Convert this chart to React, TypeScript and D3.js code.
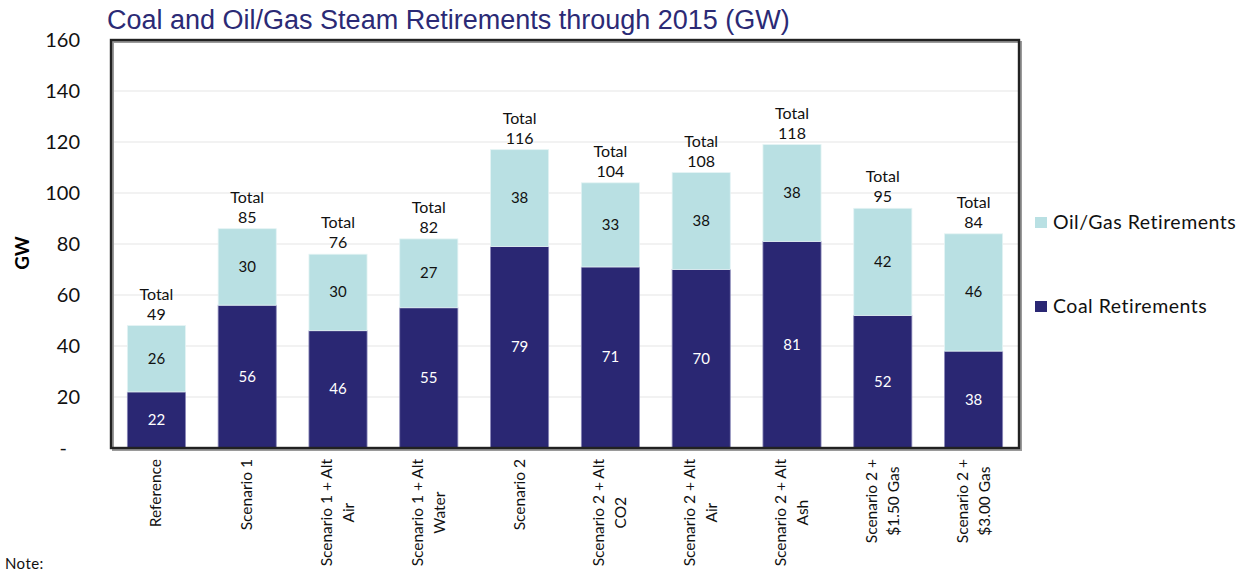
import React, { useEffect, useRef } from 'react';
import * as d3 from 'd3';

// categories (line breaks as they appear under the bars)
const categories: string[][] = [
  ['Reference'],
  ['Scenario 1'],
  ['Scenario 1 + Alt', 'Air'],
  ['Scenario 1 + Alt', 'Water'],
  ['Scenario 2'],
  ['Scenario 2 + Alt', 'CO2'],
  ['Scenario 2 + Alt', 'Air'],
  ['Scenario 2 + Alt', 'Ash'],
  ['Scenario 2 +', '$1.50 Gas'],
  ['Scenario 2 +', '$3.00 Gas'],
];
const coal = [22, 56, 46, 55, 79, 71, 70, 81, 52, 38];
const oilGas = [26, 30, 30, 27, 38, 33, 38, 38, 42, 46];
const totals = [49, 85, 76, 82, 116, 104, 108, 118, 95, 84];
const yTicks = [0, 20, 40, 60, 80, 100, 120, 140, 160];

const COAL = '#2a2773';
const OIL = '#b9e0e3';
const FONT = 'Lato, "Open Sans", sans-serif';

const App: React.FC = () => {
  const ref = useRef<SVGSVGElement>(null);

  useEffect(() => {
    if (!ref.current) return;
    const svg = d3.select(ref.current);
    svg.selectAll('*').remove();

    const plot = { left: 111, right: 1019, top: 40, bottom: 448 };

    const x = d3.scaleBand<number>()
      .domain(d3.range(categories.length))
      .range([plot.left, plot.right])
      .paddingInner(0.36)
      .paddingOuter(0.18);
    const y = d3.scaleLinear().domain([0, 160]).range([plot.bottom, plot.top]);

    // title
    svg.append('text')
      .attr('x', 107).attr('y', 29)
      .attr('fill', '#2b2a75')
      .style('font-family', '"Liberation Sans", Arial, sans-serif')
      .style('font-size', '27px')
      .text('Coal and Oil/Gas Steam Retirements through 2015 (GW)');

    // gridlines
    svg.append('g').selectAll('line')
      .data(yTicks.filter(t => t > 0 && t < 160))
      .enter().append('line')
      .attr('x1', plot.left).attr('x2', plot.right)
      .attr('y1', d => y(d)).attr('y2', d => y(d))
      .attr('stroke', '#e6e6e6').attr('stroke-width', 1.2);

    // y tick labels
    svg.append('g').selectAll('text')
      .data(yTicks)
      .enter().append('text')
      .attr('x', d => (d === 0 ? 67 : 80))
      .attr('y', d => y(d) + 7)
      .attr('text-anchor', 'end')
      .style('font-family', FONT)
      .style('font-size', '20px')
      .attr('fill', '#111')
      .text(d => (d === 0 ? '-' : String(d)));

    svg.append('text')
      .attr('transform', 'translate(29,253) rotate(-90)')
      .attr('text-anchor', 'middle')
      .style('font-family', FONT)
      .style('font-size', '19px')
      .style('font-weight', 'bold')
      .text('GW');

    // stacked bars
    const stackData = categories.map((_, i) => ({ i, coal: coal[i], oil: oilGas[i] }));
    const series = d3.stack<{ i: number; coal: number; oil: number }>()
      .keys(['coal', 'oil'])(stackData);
    const colors: Record<string, string> = { coal: COAL, oil: OIL };
    const strokes: Record<string, string> = { coal: '#8a88b8', oil: '#e4f3f4' };
    const textColors: Record<string, string> = { coal: '#fff', oil: '#111' };

    series.forEach(s => {
      const g = svg.append('g');
      g.selectAll('rect')
        .data(s)
        .enter().append('rect')
        .attr('x', d => x(d.data.i)!)
        .attr('width', x.bandwidth())
        .attr('y', d => y(d[1]))
        .attr('height', d => y(d[0]) - y(d[1]))
        .attr('fill', colors[s.key])
        .attr('stroke', strokes[s.key])
        .attr('stroke-width', 0.8);
      g.selectAll('text')
        .data(s)
        .enter().append('text')
        .attr('x', d => x(d.data.i)! + x.bandwidth() / 2)
        .attr('y', d => (y(d[0]) + y(d[1])) / 2 + 5)
        .attr('text-anchor', 'middle')
        .attr('fill', textColors[s.key])
        .style('font-family', FONT)
        .style('font-size', '15px')
        .text(d => String(d.data[s.key as 'coal' | 'oil']));
    });

    // totals
    const tg = svg.append('g');
    stackData.forEach(d => {
      const cx = x(d.i)! + x.bandwidth() / 2;
      const top = y(d.coal + d.oil);
      const t = tg.append('text')
        .attr('text-anchor', 'middle')
        .style('font-family', FONT)
        .style('font-size', '16px')
        .attr('fill', '#111');
      t.append('tspan').attr('x', cx).attr('y', top - 26).text('Total');
      t.append('tspan').attr('x', cx).attr('y', top - 6).text(String(totals[d.i]));
    });

    // plot frame
    svg.append('rect')
      .attr('x', plot.left + 2).attr('y', plot.top + 2)
      .attr('width', plot.right - plot.left).attr('height', plot.bottom - plot.top)
      .attr('fill', 'none').attr('stroke', '#9a9a9a').attr('stroke-width', 2);
    svg.append('rect')
      .attr('x', plot.left).attr('y', plot.top)
      .attr('width', plot.right - plot.left).attr('height', plot.bottom - plot.top)
      .attr('fill', 'none').attr('stroke', '#222').attr('stroke-width', 2.4);

    // x labels: rotated, lines centred on the longest one, top edge near the axis
    const xg = svg.append('g');
    categories.forEach((lines, i) => {
      const cx = x(i)! + x.bandwidth() / 2;
      const lh = 22;
      const g = xg.append('g');
      const texts = lines.map(line => g.append('text')
        .attr('text-anchor', 'middle')
        .style('font-family', FONT)
        .style('font-size', '15.5px')
        .attr('fill', '#111')
        .text(line));
      const widths = texts.map(t => (t.node() as SVGTextElement).getComputedTextLength());
      const maxW = d3.max(widths) || 0;
      const centerY = 459 + maxW / 2;
      texts.forEach((t, k) => {
        const off = (k - (lines.length - 1) / 2) * lh;
        t.attr('transform', `translate(${cx + off + 5},${centerY}) rotate(-90)`);
      });
    });

    // legend
    const legend = [
      { label: 'Oil/Gas Retirements', color: OIL, y: 223 },
      { label: 'Coal Retirements', color: COAL, y: 307 },
    ];
    const lg = svg.append('g');
    legend.forEach(l => {
      lg.append('rect').attr('x', 1035).attr('y', l.y - 6).attr('width', 12).attr('height', 11).attr('fill', l.color);
      lg.append('text')
        .attr('x', 1053).attr('y', l.y + 6)
        .style('font-family', FONT)
        .style('font-size', '19.5px')
        .style('letter-spacing', '0.5px')
        .attr('fill', '#111')
        .text(l.label);
    });

    svg.append('text')
      .attr('x', 5).attr('y', 569)
      .style('font-family', FONT)
      .style('font-size', '15px')
      .style('letter-spacing', '0.4px')
      .attr('fill', '#111')
      .text('Note:');
  }, []);

  return (
    <svg ref={ref} width={1245} height={573}
      style={{ position: 'absolute', left: 0, top: 0, background: '#fff' }} />
  );
};

export default App;
